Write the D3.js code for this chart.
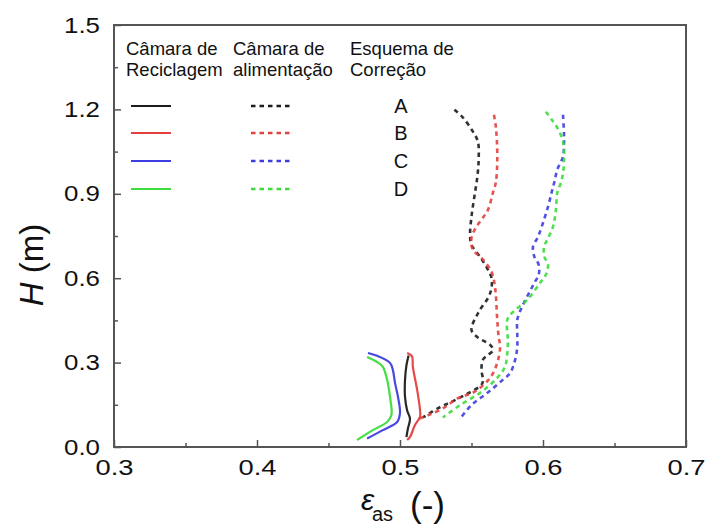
<!DOCTYPE html>
<html>
<head>
<meta charset="utf-8">
<script src="https://cdn.jsdelivr.net/npm/d3@7/dist/d3.min.js"></script>
<style>
  html, body { margin: 0; padding: 0; background: #fff; }
  svg { display: block; }
  text { font-family: "Liberation Sans", Arial, sans-serif; fill: #111; }
</style>
</head>
<body>
<svg id="chart" width="706" height="528"></svg>
<script>
// Bed voidage profiles: each point is [eps_as, H (m)], listed from top to bottom.
const feedA = [[0.538,1.199],[0.544,1.171],[0.551,1.121],[0.5545,1.085],[0.555,1.021],[0.554,0.957],[0.552,0.890],[0.550,0.819],[0.549,0.754],[0.550,0.719],[0.556,0.676],[0.5615,0.630],[0.564,0.601],[0.564,0.566],[0.562,0.534],[0.5547,0.477],[0.550,0.416],[0.554,0.391],[0.563,0.363],[0.565,0.345],[0.558,0.310],[0.557,0.274],[0.558,0.238],[0.557,0.221],[0.5455,0.185],[0.535,0.158],[0.527,0.139],[0.516,0.105]];
const feedB = [[0.5657,1.181],[0.567,1.139],[0.5678,1.082],[0.568,1.011],[0.567,0.940],[0.565,0.904],[0.5615,0.843],[0.557,0.808],[0.553,0.779],[0.550,0.744],[0.551,0.701],[0.557,0.672],[0.564,0.623],[0.566,0.584],[0.567,0.541],[0.568,0.452],[0.569,0.391],[0.570,0.356],[0.568,0.299],[0.563,0.246],[0.552,0.196],[0.540,0.172],[0.530,0.137],[0.520,0.114],[0.513,0.100]];
const feedC = [[0.614,1.181],[0.6147,1.110],[0.6147,1.075],[0.614,1.032],[0.610,0.986],[0.608,0.943],[0.606,0.904],[0.6035,0.854],[0.600,0.797],[0.5965,0.747],[0.593,0.712],[0.594,0.676],[0.597,0.648],[0.597,0.612],[0.594,0.584],[0.590,0.545],[0.585,0.495],[0.582,0.452],[0.582,0.406],[0.582,0.356],[0.5805,0.310],[0.577,0.263],[0.571,0.235],[0.561,0.192],[0.550,0.149],[0.542,0.100]];
const feedD = [[0.602,1.192],[0.606,1.164],[0.610,1.135],[0.614,1.085],[0.6147,1.011],[0.614,0.975],[0.6126,0.940],[0.610,0.904],[0.609,0.843],[0.607,0.783],[0.603,0.737],[0.6007,0.712],[0.601,0.676],[0.6035,0.648],[0.602,0.612],[0.598,0.584],[0.589,0.523],[0.579,0.480],[0.575,0.452],[0.575,0.409],[0.5755,0.381],[0.575,0.334],[0.5734,0.285],[0.568,0.246],[0.557,0.196],[0.542,0.149],[0.530,0.105]];

const recycleA = [[0.506,0.325],[0.5045,0.290],[0.5035,0.238],[0.5035,0.178],[0.505,0.130],[0.507,0.100],[0.5055,0.065],[0.5045,0.035]];
const recycleB = [[0.505,0.334],[0.5084,0.322],[0.509,0.285],[0.512,0.203],[0.514,0.132],[0.514,0.107],[0.5105,0.078],[0.507,0.036],[0.505,0.025]];
const recycleC = [[0.4776,0.334],[0.484,0.324],[0.493,0.299],[0.495,0.274],[0.4965,0.228],[0.4986,0.178],[0.500,0.121],[0.498,0.089],[0.488,0.060],[0.477,0.030]];
const recycleD = [[0.477,0.320],[0.484,0.302],[0.488,0.285],[0.491,0.238],[0.493,0.178],[0.494,0.114],[0.491,0.089],[0.481,0.060],[0.470,0.025]];

const schemes = ["A", "B", "C", "D"];
const colors = ["#1c1c1c", "#e4403e", "#3e3ee0", "#3cdc3c"];
const recycleSeries = [recycleA, recycleB, recycleC, recycleD];
const feedSeries = [feedA, feedB, feedC, feedD];

const xMajor = [0.3, 0.4, 0.5, 0.6, 0.7];
const xMinor = [0.35, 0.45, 0.55, 0.65];
const yMajor = [0.0, 0.3, 0.6, 0.9, 1.2, 1.5];
const yMinor = [0.15, 0.45, 0.75, 1.05, 1.35];

const headers = [
  ["Câmara de", "Reciclagem"],
  ["Câmara de", "alimentação"],
  ["Esquema de", "Correção"]
];

const svg = d3.select("#chart");
const plot = { left: 114, right: 686, top: 25, bottom: 447 };

const x = d3.scaleLinear().domain([0.3, 0.7]).range([plot.left, plot.right]);
const y = d3.scaleLinear().domain([0, 1.5]).range([plot.bottom, plot.top]);

const axisColor = "#555";

// minor ticks (inward, no labels)
svg.append("g")
  .attr("transform", `translate(0,${plot.bottom})`)
  .call(d3.axisBottom(x).tickValues(xMinor).tickSize(-4).tickFormat(""))
  .call(g => g.select(".domain").remove())
  .call(g => g.selectAll("line").attr("stroke", axisColor).attr("stroke-width", 1.5));
svg.append("g")
  .attr("transform", `translate(${plot.left},0)`)
  .call(d3.axisLeft(y).tickValues(yMinor).tickSize(-4).tickFormat(""))
  .call(g => g.select(".domain").remove())
  .call(g => g.selectAll("line").attr("stroke", axisColor).attr("stroke-width", 1.5));

// major ticks with labels
svg.append("g")
  .attr("transform", `translate(0,${plot.bottom})`)
  .call(d3.axisBottom(x).tickValues(xMajor).tickSize(-7).tickPadding(12).tickFormat(d3.format(".1f")))
  .call(g => g.select(".domain").remove())
  .call(g => g.selectAll("line").attr("stroke", axisColor).attr("stroke-width", 1.5))
  .call(g => g.selectAll("text")
    .attr("font-size", 22).attr("fill", "#222")
    .attr("font-family", "'Liberation Sans', Arial, sans-serif")
    .attr("textLength", 38).attr("lengthAdjust", "spacingAndGlyphs"));
svg.append("g")
  .attr("transform", `translate(${plot.left},0)`)
  .call(d3.axisLeft(y).tickValues(yMajor).tickSize(-7).tickPadding(14).tickFormat(d3.format(".1f")))
  .call(g => g.select(".domain").remove())
  .call(g => g.selectAll("line").attr("stroke", axisColor).attr("stroke-width", 1.5))
  .call(g => g.selectAll("text")
    .attr("font-size", 22).attr("fill", "#222")
    .attr("font-family", "'Liberation Sans', Arial, sans-serif")
    .attr("textLength", 36).attr("lengthAdjust", "spacingAndGlyphs"));

// frame
svg.append("rect")
  .attr("x", plot.left).attr("y", plot.top)
  .attr("width", plot.right - plot.left).attr("height", plot.bottom - plot.top)
  .attr("fill", "none").attr("stroke", axisColor).attr("stroke-width", 2);

// profile curves
const line = d3.line()
  .x(d => x(d[0]))
  .y(d => y(d[1]))
  .curve(d3.curveCatmullRom.alpha(0.5));

const curves = svg.append("g").attr("fill", "none");
feedSeries.forEach((s, i) => {
  curves.append("path")
    .attr("d", line(s))
    .attr("stroke", colors[i])
    .attr("stroke-width", 2.6)
    .attr("stroke-dasharray", "4.5,4")
    .attr("stroke-linecap", "butt")
    .attr("opacity", 0.9);
});
recycleSeries.forEach((s, i) => {
  curves.append("path")
    .attr("d", line(s))
    .attr("stroke", colors[i])
    .attr("stroke-width", 2.2)
    .attr("opacity", 0.95);
});

// legend
const legend = svg.append("g");
const headerX = [126, 233, 350];
headers.forEach((h, i) => {
  h.forEach((t, j) => {
    legend.append("text")
      .attr("x", headerX[i]).attr("y", 55 + j * 21)
      .attr("font-size", 18.5)
      .text(t);
  });
});
const rowY = [106, 133, 161, 189];
schemes.forEach((s, i) => {
  legend.append("line")
    .attr("x1", 131).attr("x2", 171).attr("y1", rowY[i]).attr("y2", rowY[i])
    .attr("stroke", colors[i]).attr("stroke-width", 2.2);
  legend.append("line")
    .attr("x1", 251).attr("x2", 293).attr("y1", rowY[i]).attr("y2", rowY[i])
    .attr("stroke", colors[i]).attr("stroke-width", 2.4)
    .attr("stroke-dasharray", "4.5,4");
  legend.append("text")
    .attr("x", 401).attr("y", rowY[i]).attr("dy", "0.36em")
    .attr("text-anchor", "middle").attr("font-size", 20)
    .text(s);
});

// axis titles
const yTitle = svg.append("text")
  .attr("transform", "translate(43,265) rotate(-90)")
  .attr("text-anchor", "middle")
  .attr("font-size", 33);
yTitle.append("tspan").attr("font-style", "italic").text("H");
yTitle.append("tspan").text(" (m)");

svg.append("text")
  .attr("x", 361).attr("y", 510)
  .attr("font-family", "'Liberation Serif', 'DejaVu Serif', serif")
  .attr("font-style", "italic").attr("font-size", 30)
  .text("ε");
svg.append("text")
  .attr("x", 372).attr("y", 521)
  .attr("font-size", 20)
  .text("as");
svg.append("text")
  .attr("x", 410).attr("y", 517)
  .attr("font-size", 35)
  .text("(-)");
</script>
</body>
</html>
